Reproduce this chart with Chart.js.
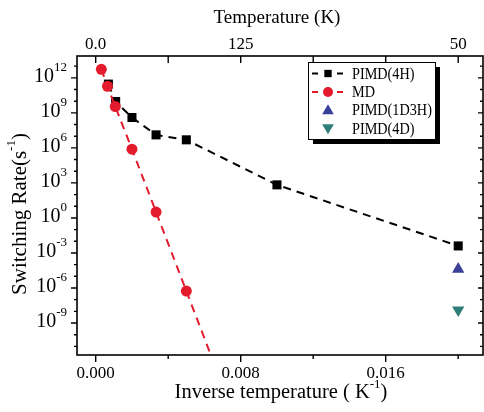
<!DOCTYPE html>
<html>
<head>
<meta charset="utf-8">
<script src="https://cdn.jsdelivr.net/npm/chart.js@4/dist/chart.umd.min.js"></script>
<style>
  html, body { margin: 0; padding: 0; background: #ffffff; }
  #c { display: block; }
</style>
</head>
<body>
<canvas id="c" width="484" height="412"></canvas>
<script>
// ---------- data ----------
const pimd4hX = [0.0007, 0.0011, 0.0020, 0.00333, 0.0050, 0.0100, 0.0200];
const pimd4hY = [2.9e11, 9.3e9, 4.0e8, 1.3e7, 4.9e6, 6.8e2, 4.0e-3];

const mdX = [0.00031, 0.00065, 0.00108, 0.0020, 0.00333, 0.0050, 0.0100];
const mdY = [5.4e12, 1.9e11, 3.5e9, 7.8e5, 3.2e0, 5.5e-7, 3.0e-27];

const pimd1d3hX = [0.0200];
const pimd1d3hY = [4.1e-5];

const pimd4dX = [0.0200];
const pimd4dY = [1.3e-8];

const seriesLabels = ['PIMD(4H)', 'MD', 'PIMD(1D3H)', 'PIMD(4D)'];

// tick labels
const xTickValues = [0, 0.004, 0.008, 0.012, 0.016, 0.020];
const bottomTickLabels = ['0.000', '', '0.008', '', '0.016', ''];
const topTickLabels = ['0.0', '', '125', '', '', '50'];
const yDecades = [-11,-10,-9,-8,-7,-6,-5,-4,-3,-2,-1,0,1,2,3,4,5,6,7,8,9,10,11,12,13];
const yLabeledExponents = [-9, -6, -3, 0, 3, 6, 9, 12];

const xTitle = ['Inverse temperature ( K', '-1', ')'];
const yTitle = ['Switching Rate(s', '-1', ')'];
const topTitle = 'Temperature (K)';

// ---------- helpers ----------
const FONT = '"Liberation Serif", "Times New Roman", serif';
const pts = (xs, ys) => xs.map((x, i) => ({ x: x, y: ys[i] }));

const RED = '#e31b2d';
const BLUE = '#3b3f98';
const TEAL = '#2f7d78';

function drawSupText(ctx, parts, baseSize, supSize, supRaise) {
  ctx.font = baseSize + 'px ' + FONT;
  const w0 = ctx.measureText(parts[0]).width;
  const w2 = ctx.measureText(parts[2]).width;
  ctx.font = supSize + 'px ' + FONT;
  const w1 = ctx.measureText(parts[1]).width;
  const total = w0 + w1 + w2;
  let x = -total / 2;
  ctx.textAlign = 'left';
  ctx.textBaseline = 'middle';
  ctx.font = baseSize + 'px ' + FONT;
  ctx.fillText(parts[0], x, 0);
  x += w0;
  ctx.font = supSize + 'px ' + FONT;
  ctx.fillText(parts[1], x, -supRaise);
  x += w1;
  ctx.font = baseSize + 'px ' + FONT;
  ctx.fillText(parts[2], x, 0);
}

const axesPlugin = {
  id: 'originAxes',
  afterDatasetsDraw(chart) {
    const ctx = chart.ctx;
    const a = chart.chartArea;
    const xs = chart.scales.x;
    const ys = chart.scales.y;
    ctx.save();
    ctx.strokeStyle = '#000';
    ctx.fillStyle = '#000';

    // frame
    ctx.lineWidth = 1.6;
    ctx.strokeRect(a.left, a.top, a.right - a.left, a.bottom - a.top);

    // x ticks
    ctx.lineWidth = 1.4;
    xTickValues.forEach((v, i) => {
      const px = xs.getPixelForValue(v);
      const major = bottomTickLabels[i] !== '';
      const lb = major ? 7 : 4;
      ctx.beginPath();
      ctx.moveTo(px, a.bottom); ctx.lineTo(px, a.bottom + lb);
      ctx.moveTo(px, a.top); ctx.lineTo(px, a.top + 7);
      ctx.stroke();
    });
    // y ticks
    yDecades.forEach(e => {
      const py = ys.getPixelForValue(Math.pow(10, e));
      if (py < a.top || py > a.bottom) return;
      const major = yLabeledExponents.includes(e);
      const l = major ? 6 : 3;
      ctx.beginPath();
      ctx.moveTo(a.left, py); ctx.lineTo(a.left - l, py);
      ctx.moveTo(a.right, py); ctx.lineTo(a.right - (major ? 5 : 3), py);
      ctx.stroke();
    });

    // bottom tick labels
    ctx.font = '17px ' + FONT;
    ctx.textAlign = 'center';
    ctx.textBaseline = 'middle';
    xTickValues.forEach((v, i) => {
      if (!bottomTickLabels[i]) return;
      ctx.fillText(bottomTickLabels[i], xs.getPixelForValue(v), a.bottom + 19);
    });
    // top tick labels
    xTickValues.forEach((v, i) => {
      if (!topTickLabels[i]) return;
      ctx.fillText(topTickLabels[i], xs.getPixelForValue(v), a.top - 11);
    });

    // y tick labels
    yLabeledExponents.forEach(e => {
      const py = ys.getPixelForValue(Math.pow(10, e));
      const sup = String(e);
      ctx.font = '13px ' + FONT;
      const ws = ctx.measureText(sup).width;
      ctx.font = '20px ' + FONT;
      const wb = ctx.measureText('10').width;
      const right = a.left - 10;
      ctx.textAlign = 'left';
      ctx.textBaseline = 'middle';
      ctx.fillText('10', right - ws - wb, py - 1);
      ctx.font = '13px ' + FONT;
      ctx.fillText(sup, right - ws, py - 10);
    });

    // axis titles
    ctx.save();
    ctx.translate(281, 393);
    drawSupText(ctx, xTitle, 20.5, 13, 8);
    ctx.restore();

    ctx.save();
    ctx.translate(20, 214);
    ctx.rotate(-Math.PI / 2);
    drawSupText(ctx, yTitle, 21, 13, 8);
    ctx.restore();

    ctx.font = '19px ' + FONT;
    ctx.textAlign = 'center';
    ctx.textBaseline = 'middle';
    ctx.fillText(topTitle, 277, 18);

    // legend
    const lx = 308, ly = 62, lw = 127, lh = 77;
    ctx.fillStyle = '#000';
    ctx.fillRect(lx + 5, ly + 5, lw, lh);
    ctx.fillStyle = '#fff';
    ctx.fillRect(lx, ly, lw, lh);
    ctx.lineWidth = 1;
    ctx.strokeStyle = '#000';
    ctx.strokeRect(lx + 0.5, ly + 0.5, lw, lh);
    const rows = [73.5, 92, 110, 128.5];
    chart.data.datasets.forEach((ds, i) => {
      const cy = rows[i];
      if (ds.showLine) {
        ctx.save();
        ctx.strokeStyle = ds.borderColor;
        ctx.lineWidth = 2;
        ctx.beginPath();
        ctx.moveTo(312, cy); ctx.lineTo(318, cy);
        ctx.moveTo(337, cy); ctx.lineTo(343, cy);
        ctx.stroke();
        ctx.restore();
      }
      ctx.save();
      ctx.fillStyle = ds.pointBackgroundColor;
      ctx.strokeStyle = ds.pointBorderColor;
      const tri = ds.pointStyle === 'triangle';
      Chart.helpers.drawPoint(ctx, {
        pointStyle: ds.pointStyle,
        rotation: ds.pointRotation || 0,
        radius: ds.legendRadius,
        borderWidth: 0
      }, 328, cy + (tri ? (ds.pointRotation ? -1 : 1) : 0));
      ctx.restore();
      ctx.save();
      ctx.fillStyle = '#000';
      ctx.font = '16px ' + FONT;
      ctx.textAlign = 'left';
      ctx.textBaseline = 'middle';
      ctx.translate(352, cy + 1);
      ctx.scale(0.89, 1);
      ctx.fillText(ds.label, 0, 0);
      ctx.restore();
    });

    ctx.restore();
  }
};

new Chart(document.getElementById('c'), {
  type: 'scatter',
  data: {
    datasets: [
      {
        label: seriesLabels[0],
        data: pts(pimd4hX, pimd4hY),
        showLine: true,
        borderColor: '#000',
        borderWidth: 2,
        borderDash: [8, 6],
        pointStyle: 'rect',
        pointRadius: 6.4,
        pointBackgroundColor: '#000',
        pointBorderColor: '#000',
        pointBorderWidth: 0,
        legendRadius: 5.2,
        order: 2
      },
      {
        label: seriesLabels[1],
        data: pts(mdX, mdY),
        showLine: true,
        borderColor: RED,
        borderWidth: 2,
        borderDash: [8, 6],
        pointStyle: 'circle',
        pointRadius: 5.5,
        pointBackgroundColor: RED,
        pointBorderColor: RED,
        pointBorderWidth: 0,
        legendRadius: 5,
        order: 1
      },
      {
        label: seriesLabels[2],
        data: pts(pimd1d3hX, pimd1d3hY),
        showLine: false,
        pointStyle: 'triangle',
        pointRadius: 7.1,
        pointBackgroundColor: BLUE,
        pointBorderColor: BLUE,
        pointBorderWidth: 0,
        legendRadius: 6.7,
        order: 0
      },
      {
        label: seriesLabels[3],
        data: pts(pimd4dX, pimd4dY),
        showLine: false,
        pointStyle: 'triangle',
        pointRotation: 180,
        rotation: 180,
        pointRadius: 7.1,
        pointBackgroundColor: TEAL,
        pointBorderColor: TEAL,
        pointBorderWidth: 0,
        legendRadius: 6.7,
        order: 0
      }
    ]
  },
  options: {
    responsive: false,
    animation: false,
    devicePixelRatio: 1,
    layout: { autoPadding: false, padding: { left: 77, top: 56, right: 1, bottom: 57 } },
    plugins: { legend: { display: false }, tooltip: { enabled: false } },
    scales: {
      x: {
        type: 'linear',
        display: false,
        min: -0.001032,
        max: 0.021368
      },
      y: {
        type: 'logarithmic',
        display: false,
        min: Math.pow(10, -11.74),
        max: Math.pow(10, 13.87)
      }
    }
  },
  plugins: [axesPlugin]
});
</script>
</body>
</html>
